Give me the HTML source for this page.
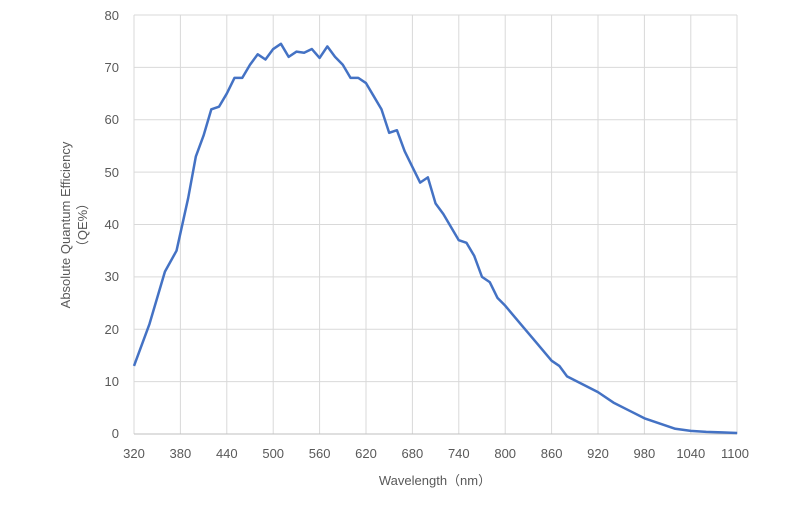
<!DOCTYPE html>
<html><head><meta charset="utf-8"><style>
body{margin:0;background:#fff;}
svg text{font-family:"Liberation Sans","Noto Sans CJK SC",sans-serif;fill:#595959;font-size:13px;}
</style></head><body>
<svg width="800" height="500" xmlns="http://www.w3.org/2000/svg">
<g stroke="#d9d9d9" stroke-width="1">
<line x1="134" y1="15" x2="737" y2="15"/><line x1="134" y1="67.4" x2="737" y2="67.4"/>
<line x1="134" y1="119.8" x2="737" y2="119.8"/><line x1="134" y1="172.1" x2="737" y2="172.1"/>
<line x1="134" y1="224.5" x2="737" y2="224.5"/><line x1="134" y1="276.9" x2="737" y2="276.9"/>
<line x1="134" y1="329.3" x2="737" y2="329.3"/><line x1="134" y1="381.6" x2="737" y2="381.6"/>
<line x1="134" y1="15" x2="134" y2="434"/><line x1="180.4" y1="15" x2="180.4" y2="434"/>
<line x1="226.8" y1="15" x2="226.8" y2="434"/><line x1="273.2" y1="15" x2="273.2" y2="434"/>
<line x1="319.6" y1="15" x2="319.6" y2="434"/><line x1="366" y1="15" x2="366" y2="434"/>
<line x1="412.4" y1="15" x2="412.4" y2="434"/><line x1="458.8" y1="15" x2="458.8" y2="434"/>
<line x1="505.2" y1="15" x2="505.2" y2="434"/><line x1="551.6" y1="15" x2="551.6" y2="434"/>
<line x1="598" y1="15" x2="598" y2="434"/><line x1="644.4" y1="15" x2="644.4" y2="434"/>
<line x1="690.8" y1="15" x2="690.8" y2="434"/><line x1="737" y1="15" x2="737" y2="434"/>
</g>
<line x1="134" y1="434" x2="737" y2="434" stroke="#bfbfbf"/>
<g text-anchor="end">
<text x="119" y="20">80</text><text x="119" y="72">70</text><text x="119" y="124">60</text>
<text x="119" y="177">50</text><text x="119" y="229">40</text><text x="119" y="281">30</text>
<text x="119" y="334">20</text><text x="119" y="386">10</text><text x="119" y="438">0</text>
</g>
<g text-anchor="middle">
<text x="134" y="458">320</text><text x="180.4" y="458">380</text><text x="226.8" y="458">440</text>
<text x="273.2" y="458">500</text><text x="319.6" y="458">560</text><text x="366" y="458">620</text>
<text x="412.4" y="458">680</text><text x="458.8" y="458">740</text><text x="505.2" y="458">800</text>
<text x="551.6" y="458">860</text><text x="598" y="458">920</text><text x="644.4" y="458">980</text>
<text x="690.8" y="458">1040</text><text x="735" y="458">1100</text>
<text x="435" y="485">Wavelength（nm）</text>
<g transform="translate(70,225) rotate(-90)"><text x="0" y="0">Absolute Quantum Efficiency</text><text x="0" y="17">（QE%）</text></g>
</g>
<g transform="translate(134,434) scale(0.7733,-5.2375)">
<polyline fill="none" stroke="#4472c4" stroke-width="2.5" vector-effect="non-scaling-stroke" stroke-linejoin="round"
points="0,13 20,21 40,31 55,35 70,45 80,53 90,57 100,62 110,62.5 120,65 130,68 140,68 150,70.5 160,72.5 170,71.5 180,73.5 190,74.5 200,72 210,73 220,72.8 230,73.5 240,71.8 250,74 260,72 270,70.5 280,68 290,68 300,67 310,64.5 320,62 330,57.5 340,58 350,54 360,51 370,48 380,49 390,44 400,42 410,39.5 420,37 430,36.5 440,34 450,30 460,29 470,26 480,24.5 500,21 520,17.5 540,14 550,13 560,11 580,9.5 600,8 620,6 640,4.5 660,3 680,2 700,1 720,0.6 740,0.4 760,0.3 780,0.2"/>
</g>
</svg>
</body></html>
